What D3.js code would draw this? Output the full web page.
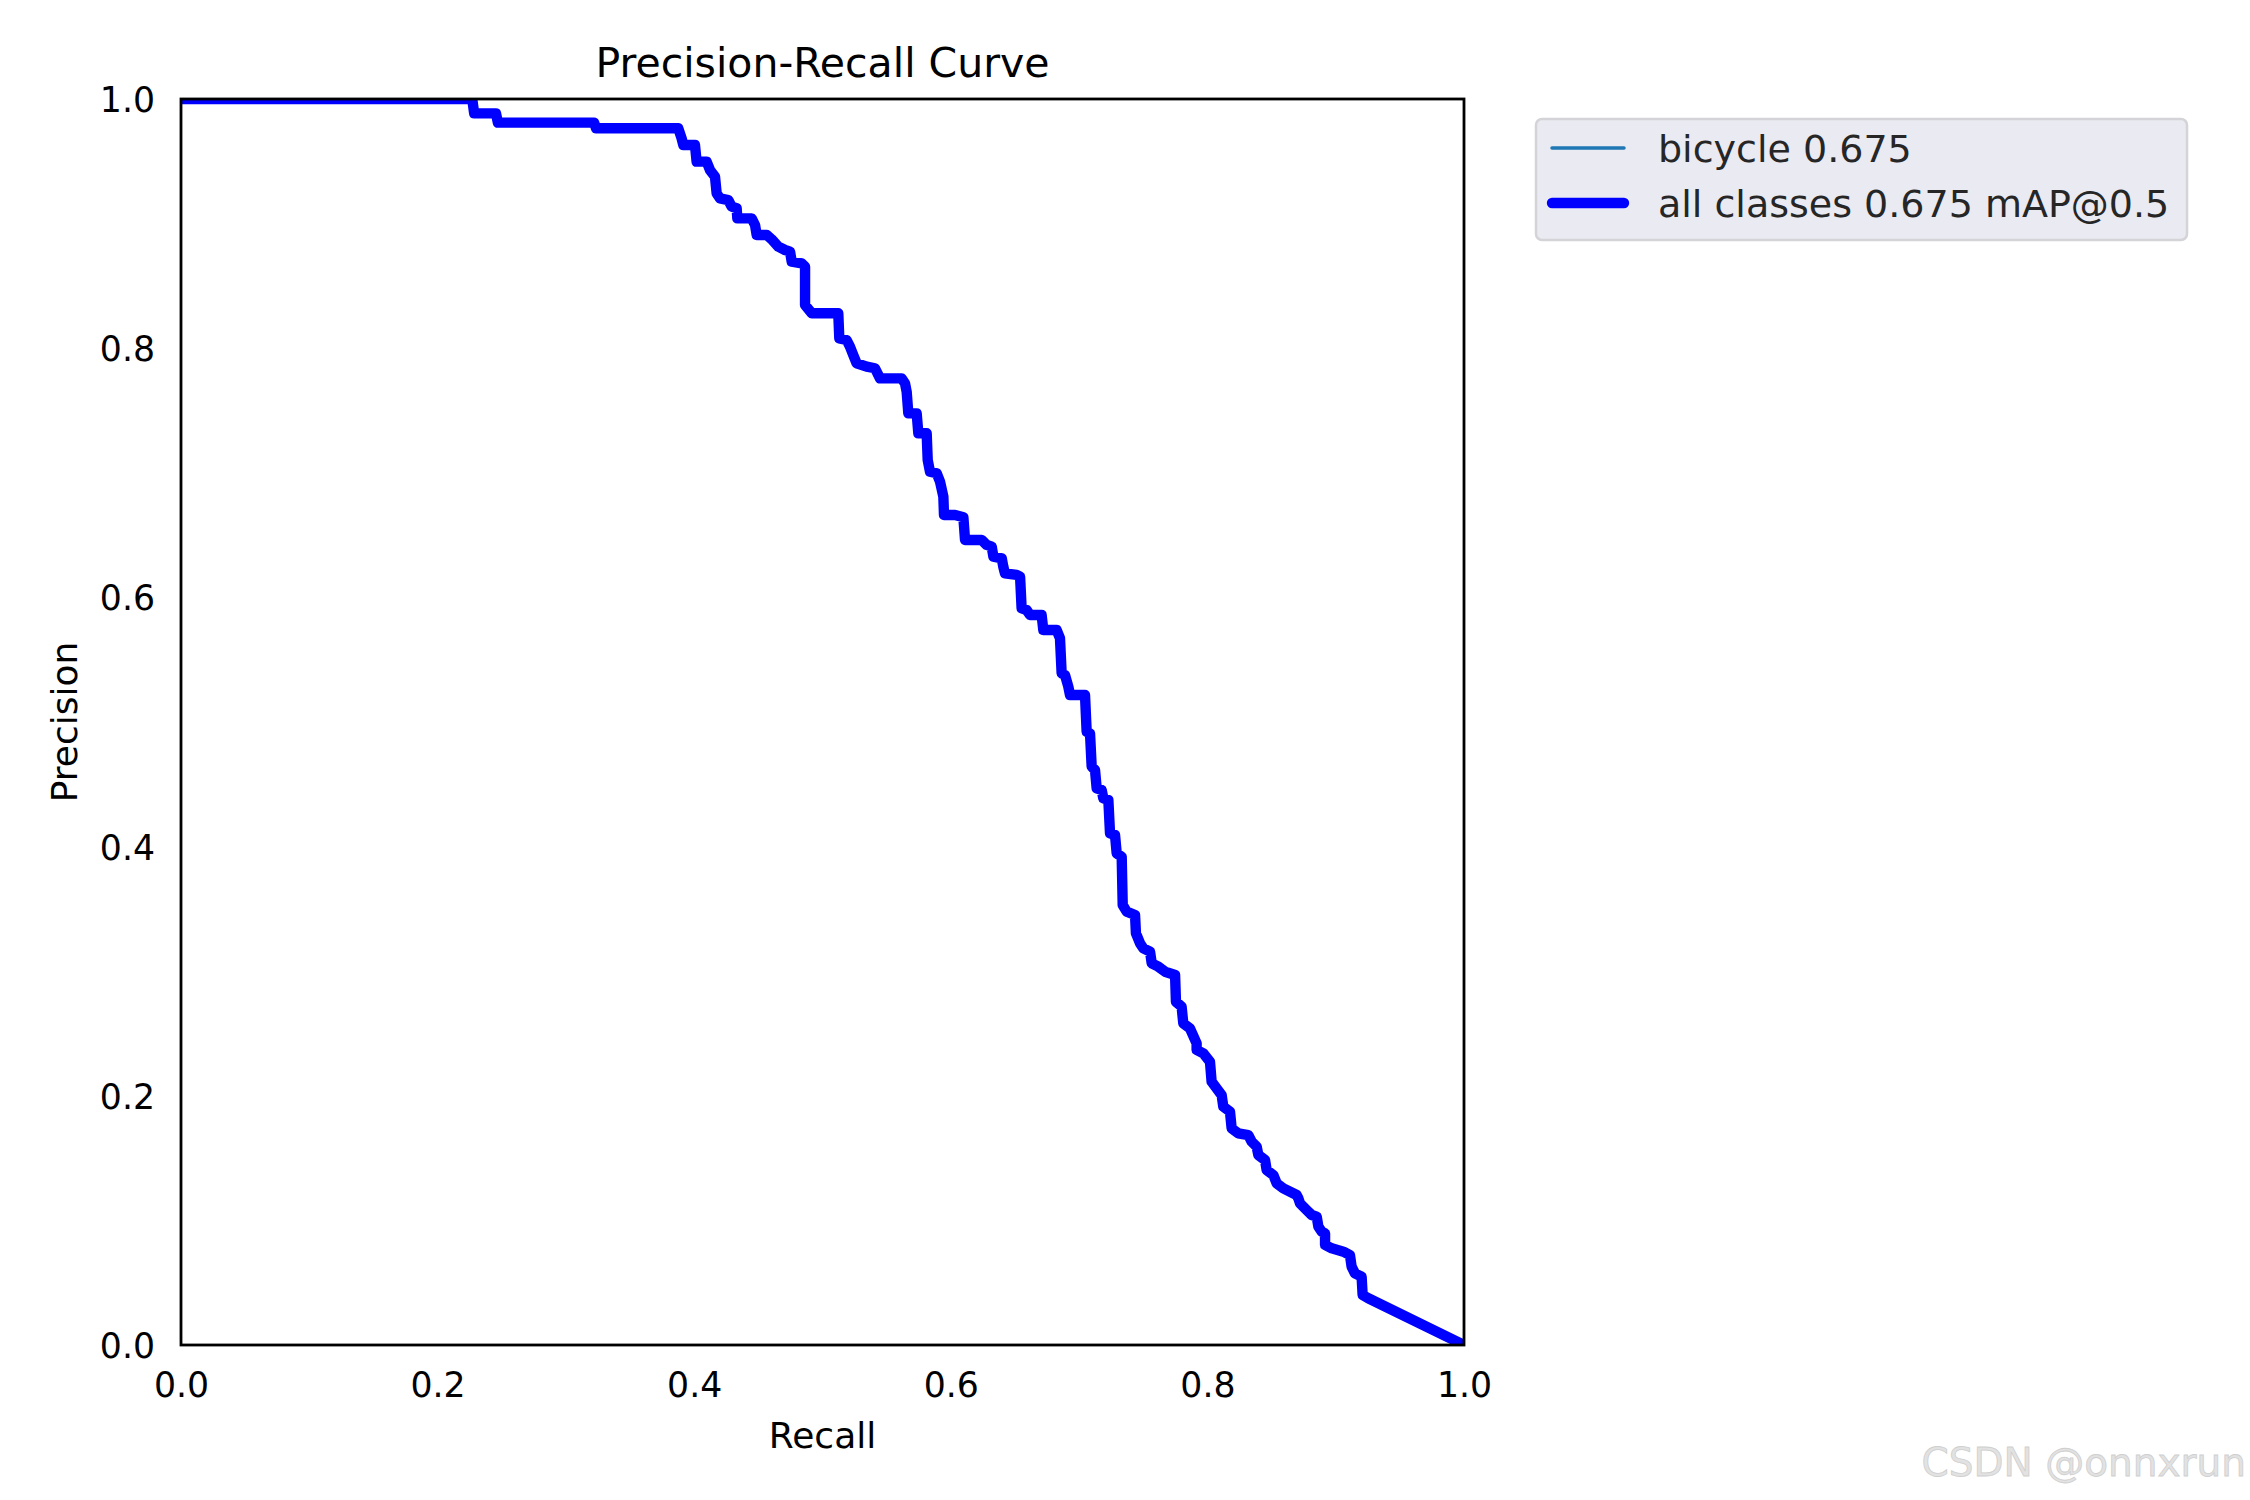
<!DOCTYPE html>
<html>
<head>
<meta charset="utf-8">
<script src="https://cdn.jsdelivr.net/npm/d3@7"></script>
<style>
  body { margin: 0; background: #fff; }
  text { font-family: "DejaVu Sans", sans-serif; }
</style>
</head>
<body>
<svg id="chart"></svg>
<script>
// PR curve vertices
var recall = [0, 0.227, 0.2285, 0.2455, 0.247, 0.322, 0.3235, 0.3876, 0.3902, 0.3915,
  0.4006, 0.4019, 0.4097, 0.4123, 0.4162, 0.4175, 0.4201, 0.4266, 0.4292, 0.4331,
  0.4336, 0.4448, 0.4474, 0.4487, 0.4565, 0.4604, 0.4656, 0.4708, 0.4747, 0.4760,
  0.4838, 0.4864, 0.4864, 0.4916, 0.5123, 0.5131, 0.5188, 0.5214, 0.5240, 0.5266,
  0.5344, 0.5409, 0.5448, 0.5617, 0.5643, 0.5656, 0.5669, 0.5734, 0.5747, 0.5812,
  0.5820, 0.5838, 0.5890, 0.5916, 0.5942, 0.5947, 0.6033, 0.6098, 0.6111, 0.6241,
  0.6280, 0.6319, 0.6332, 0.6397, 0.6409, 0.6422, 0.6513, 0.6540, 0.6552, 0.6591,
  0.6617, 0.6708, 0.6721, 0.6825, 0.6851, 0.6864, 0.6890, 0.6916, 0.6929, 0.7046,
  0.7059, 0.7085, 0.7098, 0.7124, 0.7137, 0.7176, 0.7189, 0.7228, 0.7241, 0.7280,
  0.7293, 0.7332, 0.7340, 0.7371, 0.7436, 0.7443, 0.7475, 0.7501, 0.7553, 0.7566,
  0.7618, 0.7670, 0.7748, 0.7755, 0.7799, 0.7812, 0.7864, 0.7916, 0.7916, 0.7968,
  0.8020, 0.8033, 0.8072, 0.8111, 0.8124, 0.8176, 0.8189, 0.8241, 0.8319, 0.8345,
  0.8384, 0.8397, 0.8449, 0.8462, 0.8514, 0.8540, 0.8592, 0.8696, 0.8709, 0.8722,
  0.8774, 0.8813, 0.8852, 0.8865, 0.8891, 0.8917, 0.8917, 0.8969, 0.9060, 0.9111,
  0.9124, 0.9150, 0.9202, 0.9210, 0.9254, 1.0];
var precision = [1, 1, 0.9885, 0.9885, 0.981, 0.981, 0.9765, 0.9765, 0.9684, 0.9631,
  0.9631, 0.9497, 0.9497, 0.9430, 0.9377, 0.9243, 0.9203, 0.9189, 0.9136, 0.9123,
  0.9042, 0.9042, 0.8989, 0.8909, 0.8909, 0.8874, 0.8815, 0.8788, 0.8775, 0.8695,
  0.8681, 0.8654, 0.8347, 0.8280, 0.8280, 0.8079, 0.8066, 0.8013, 0.7945, 0.7879,
  0.7852, 0.7839, 0.7758, 0.7758, 0.7718, 0.7651, 0.7477, 0.7477, 0.7317, 0.7317,
  0.7103, 0.7009, 0.6996, 0.6929, 0.6808, 0.6661, 0.6661, 0.6643, 0.6461, 0.6461,
  0.6421, 0.6407, 0.6327, 0.6314, 0.6247, 0.6193, 0.6180, 0.6166, 0.5912, 0.5899,
  0.5859, 0.5859, 0.5738, 0.5738, 0.5672, 0.5391, 0.5377, 0.5284, 0.5217, 0.5217,
  0.4922, 0.4909, 0.4642, 0.4615, 0.4468, 0.4454, 0.4387, 0.4374, 0.4107, 0.4093,
  0.3946, 0.3919, 0.3531, 0.3478, 0.3451, 0.3304, 0.3224, 0.3184, 0.3157, 0.3063,
  0.3036, 0.2996, 0.2970, 0.2755, 0.2715, 0.2582, 0.2541, 0.2421, 0.2368, 0.2341,
  0.2274, 0.2113, 0.2060, 0.2006, 0.1913, 0.1873, 0.1739, 0.1699, 0.1685, 0.1632,
  0.1592, 0.1525, 0.1485, 0.1404, 0.1364, 0.1298, 0.1257, 0.1204, 0.1177, 0.1137,
  0.1083, 0.1043, 0.1030, 0.0950, 0.0910, 0.0896, 0.0803, 0.0776, 0.0749, 0.0722,
  0.0629, 0.0575, 0.0548, 0.0401, 0.0375, 0];

var classNames = ["bicycle"];
var classAP = [0.675];
var mAP = 0.675;
var ticks = [0, 0.2, 0.4, 0.6, 0.8, 1.0];

var svgWidth = 2250, svgHeight = 1500;
var plotLeft = 181, plotRight = 1464, plotTop = 99, plotBottom = 1345;

var svg = d3.select("#chart")
  .attr("width", svgWidth)
  .attr("height", svgHeight)

var x = d3.scaleLinear().domain([0, 1]).range([plotLeft, plotRight]);
var y = d3.scaleLinear().domain([0, 1]).range([plotBottom, plotTop]);

var pts = recall.map(function(r, i) { return [r, precision[i]]; });

svg.append("clipPath").attr("id", "plotclip")
  .append("rect")
  .attr("x", plotLeft).attr("y", plotTop)
  .attr("width", plotRight - plotLeft).attr("height", plotBottom - plotTop);

var line = d3.line()
  .x(function(d) { return x(d[0]); })
  .y(function(d) { return y(d[1]); });

// per-class curve (thin), then all classes (thick) on top
svg.append("path")
  .datum(pts)
  .attr("clip-path", "url(#plotclip)")
  .attr("d", line)
  .attr("fill", "none")
  .attr("stroke", "#1f77b4")
  .attr("stroke-width", 3.5)
  .attr("stroke-linejoin", "round");

svg.append("path")
  .datum(pts)
  .attr("clip-path", "url(#plotclip)")
  .attr("d", line)
  .attr("fill", "none")
  .attr("stroke", "#0000ff")
  .attr("stroke-width", 10.4)
  .attr("stroke-linejoin", "round");

// axes
var xAxis = svg.append("g")
  .attr("transform", "translate(0," + plotBottom + ")")
  .call(d3.axisBottom(x).tickValues(ticks).tickFormat(d3.format(".1f")).tickSize(0).tickPadding(27));
var yAxis = svg.append("g")
  .attr("transform", "translate(" + plotLeft + ",0)")
  .call(d3.axisLeft(y).tickValues(ticks).tickFormat(d3.format(".1f")).tickSize(0).tickPadding(26));

[xAxis, yAxis].forEach(function(g) {
  g.select(".domain").remove();
  g.selectAll("text")
    .attr("font-family", "DejaVu Sans")
    .attr("font-size", 34.7)
    .attr("fill", "#000");
});
yAxis.selectAll("text").attr("dy", "0.36em");

// frame
svg.append("rect")
  .attr("x", plotLeft).attr("y", plotTop)
  .attr("width", plotRight - plotLeft).attr("height", plotBottom - plotTop)
  .attr("fill", "none")
  .attr("stroke", "#000")
  .attr("stroke-width", 2.8);

svg.append("text")
  .attr("x", (plotLeft + plotRight) / 2)
  .attr("y", 77)
  .attr("text-anchor", "middle")
  .attr("font-size", 41)
  .text("Precision-Recall Curve");

svg.append("text")
  .attr("x", (plotLeft + plotRight) / 2)
  .attr("y", 1448)
  .attr("text-anchor", "middle")
  .attr("font-size", 36)
  .text("Recall");

svg.append("text")
  .attr("transform", "translate(77," + (plotTop + plotBottom) / 2 + ") rotate(-90)")
  .attr("text-anchor", "middle")
  .attr("font-size", 36)
  .text("Precision");

// legend
var legendItems = classNames.map(function(c, i) {
  return { label: c + " " + classAP[i].toFixed(3), color: "#1f77b4", w: 3.5 };
});
legendItems.push({ label: "all classes " + mAP.toFixed(3) + " mAP@0.5", color: "#0000ff", w: 10.4 });

var legend = svg.append("g").attr("transform", "translate(1536,119)");
legend.append("rect")
  .attr("width", 651).attr("height", 121)
  .attr("rx", 6).attr("ry", 6)
  .attr("fill", "#eaeaf2")
  .attr("stroke", "#d4d4d8")
  .attr("stroke-width", 2.5);

var items = legend.selectAll("g.item")
  .data(legendItems)
  .enter()
  .append("g")
  .attr("transform", function(d, i) { return "translate(0," + (29 + i * 55) + ")"; });

items.append("line")
  .attr("x1", 16).attr("x2", 88)
  .attr("stroke", function(d) { return d.color; })
  .attr("stroke-width", function(d) { return d.w; })
  .attr("stroke-linecap", "round");

items.append("text")
  .attr("x", 122)
  .attr("y", 13.5)
  .attr("font-size", 38)
  .attr("fill", "#262626")
  .text(function(d) { return d.label; });

// watermark
svg.append("text")
  .attr("x", 2246)
  .attr("y", 1476)
  .attr("text-anchor", "end")
  .attr("font-family", "Liberation Sans")
  .attr("font-size", 39)
  .attr("fill", "#e2e2e2")
  .attr("stroke", "#cfcfcf")
  .attr("stroke-width", 0.8)
  .text("CSDN @onnxrun");
</script>
</body>
</html>
